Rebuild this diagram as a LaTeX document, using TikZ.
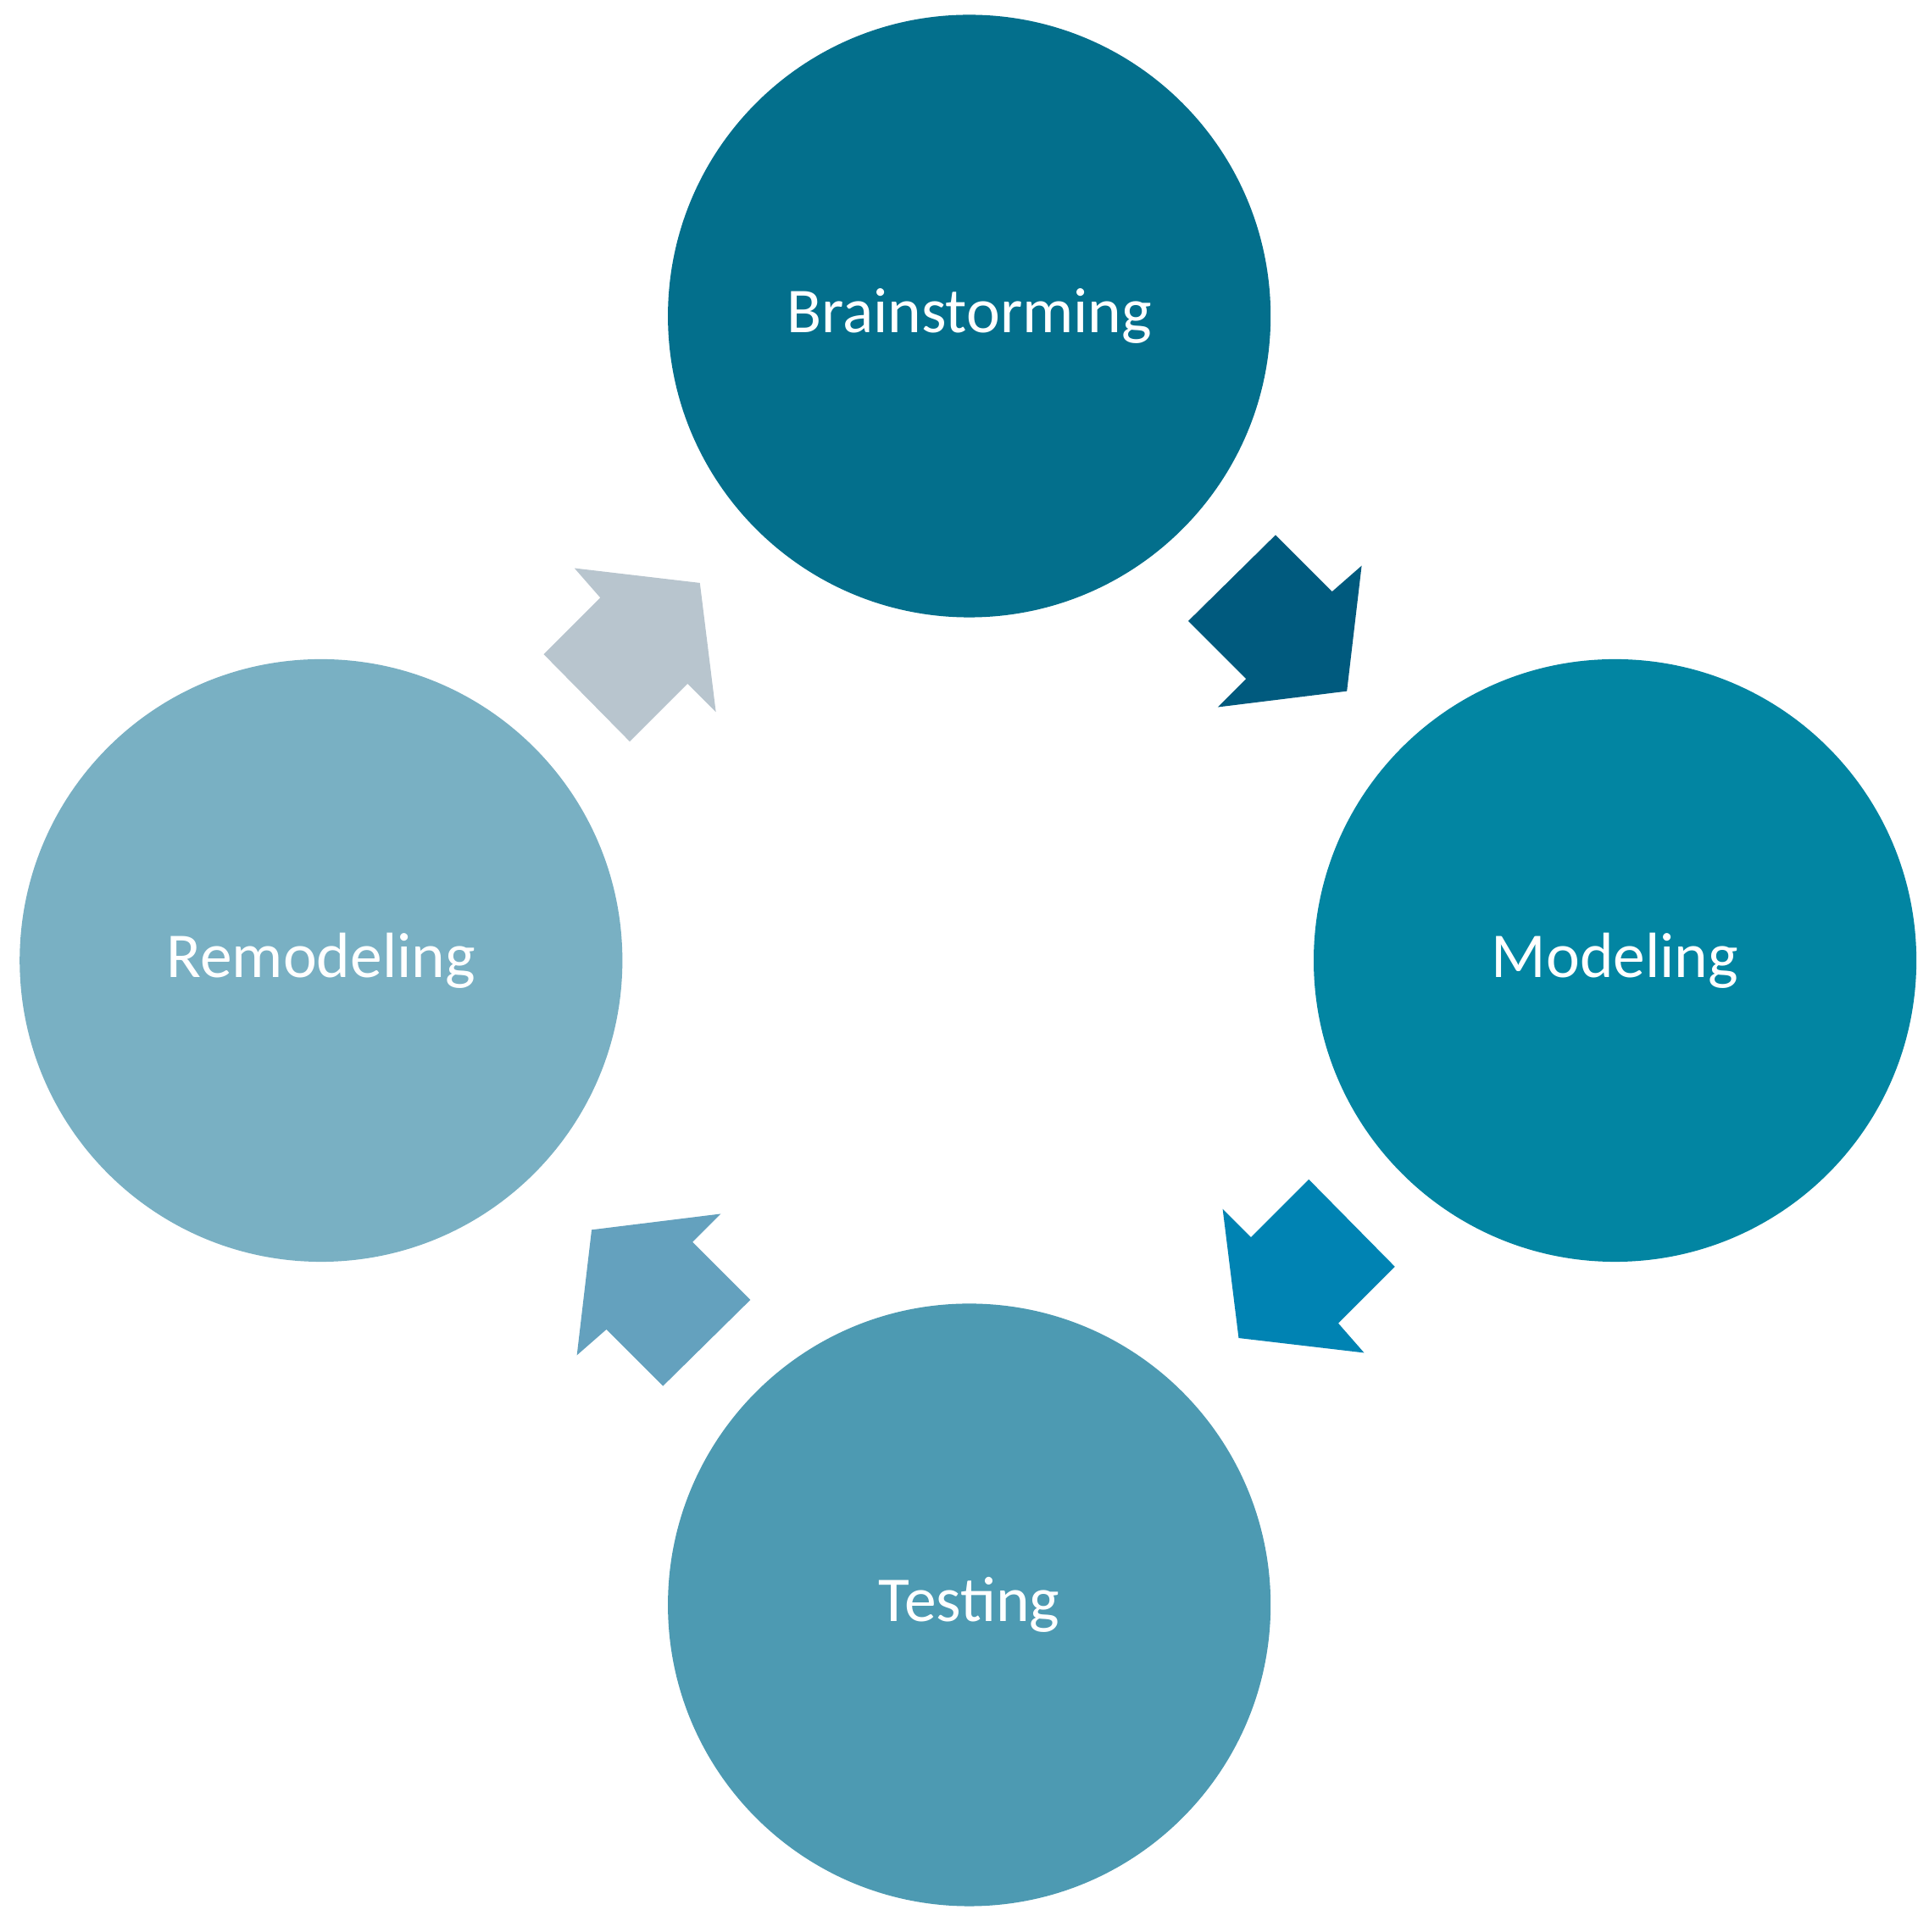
\documentclass[tikz,border=0pt]{standalone}
\usepackage{fontspec}
\setmainfont{Carlito}
\definecolor{cB}{HTML}{036F8C}
\definecolor{cM}{HTML}{0285A2}
\definecolor{cT}{HTML}{4D9AB2}
\definecolor{cR}{HTML}{79B0C3}
\definecolor{a1}{HTML}{005A7E}
\definecolor{a2}{HTML}{0083B3}
\definecolor{a3}{HTML}{64A1BE}
\definecolor{a4}{HTML}{B8C5CE}
\begin{document}
\begin{tikzpicture}[x=1pt,y=-1pt,
  stage/.style={circle,minimum size=490pt,inner sep=0pt,text=white,font=\fontsize{52}{60}\selectfont},
  cyc/.pic={\fill[#1] (966,505) -- (1037,435) -- (1083,481) -- (1107,460) -- (1095,562) -- (990,575) -- (1013,552) -- cycle;}]
\useasboundingbox (0,0) rectangle (1568,1571);
\node[stage,fill=cB] (b) at (788,257) {Brainstorming};
\node[stage,fill=cM] (m) at (1313,781) {Modeling};
\node[stage,fill=cT] (t) at (788,1305) {Testing};
\node[stage,fill=cR] (r) at (261,781) {Remodeling};
\coordinate (c) at (788,781);
\fill[a1] (966,505) -- (1037,435) -- (1083,481) -- (1107,460) -- (1095,562) -- (990,575) -- (1013,552) -- cycle;
\begin{scope}[rotate around={-90:(c)}]
\fill[a2] (966,505) -- (1037,435) -- (1083,481) -- (1107,460) -- (1095,562) -- (990,575) -- (1013,552) -- cycle;
\end{scope}
\begin{scope}[rotate around={180:(c)}]
\fill[a3] (966,505) -- (1037,435) -- (1083,481) -- (1107,460) -- (1095,562) -- (990,575) -- (1013,552) -- cycle;
\end{scope}
\begin{scope}[rotate around={90:(c)}]
\fill[a4] (966,505) -- (1037,435) -- (1083,481) -- (1107,460) -- (1095,562) -- (990,575) -- (1013,552) -- cycle;
\end{scope}
\end{tikzpicture}
\end{document}
